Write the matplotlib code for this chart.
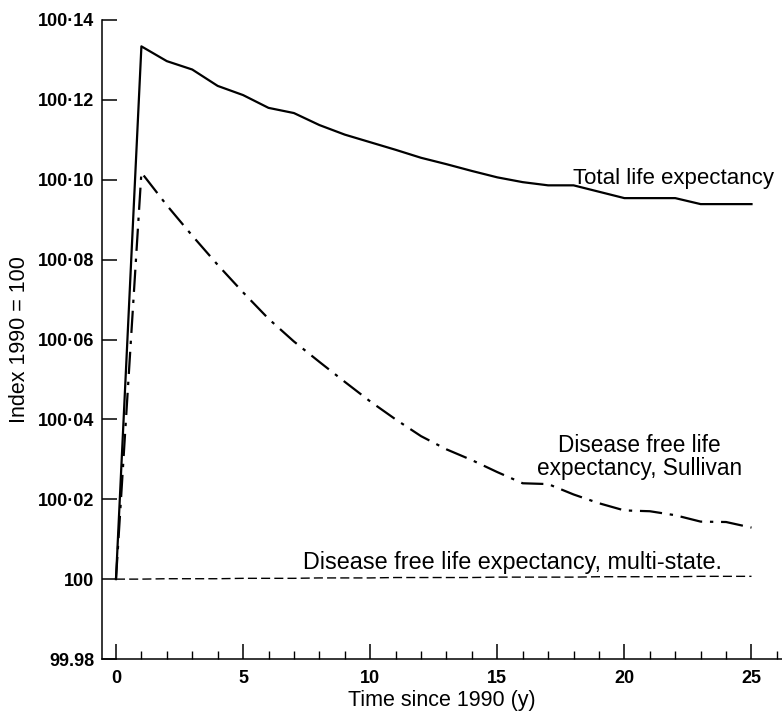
import matplotlib
matplotlib.use('Agg')
import matplotlib.pyplot as plt
from matplotlib.ticker import FixedLocator, MultipleLocator

plt.rcParams['font.family'] = ['Liberation Sans', 'DejaVu Sans']

years = list(range(0, 26))
total = [100.0, 100.1334, 100.1297, 100.1276, 100.1235, 100.1212, 100.1180, 100.1167,
         100.1137, 100.1113, 100.1094, 100.1075, 100.1055, 100.1039, 100.1022, 100.1006,
         100.0994, 100.0986, 100.0986, 100.0970, 100.0954, 100.0954, 100.0954, 100.0939,
         100.0939, 100.0939]
sullivan = [100.0, 100.1018, 100.0936, 100.0860, 100.0787, 100.0718, 100.0652, 100.0595,
            100.0544, 100.0494, 100.0445, 100.0400, 100.0358, 100.0325, 100.0298, 100.0268,
            100.0240, 100.0238, 100.0212, 100.0190, 100.0172, 100.0170, 100.0160, 100.0144,
            100.0143, 100.0129]
multistate = [100.0, 100.0000, 100.0001, 100.0001, 100.0001, 100.0002, 100.0002, 100.0002,
              100.0003, 100.0003, 100.0003, 100.0004, 100.0004, 100.0004, 100.0004, 100.0005,
              100.0005, 100.0005, 100.0005, 100.0006, 100.0006, 100.0006, 100.0006, 100.0007,
              100.0007, 100.0007]

yticks = [99.98, 100.0, 100.02, 100.04, 100.06, 100.08, 100.10, 100.12, 100.14]
ytick_labels = ['99.98', '100', '100·02', '100·04', '100·06', '100·08', '100·10', '100·12', '100·14']
xticks = [0, 5, 10, 15, 20, 25]

fig = plt.figure(figsize=(7.82, 7.11), dpi=100)
ax = fig.add_axes([102 / 782, 52 / 711, 680 / 782, 639 / 711])

ax.plot(years, total, color='black', lw=1.6)
ax.plot(years, sullivan, color='black', lw=1.6, linestyle=(0, (10, 3.5, 1.5, 3.5)))
ax.plot(years, multistate, color='black', lw=1.0, linestyle=(0, (6.5, 3)))

ax.set_xlim(-0.55, 26.2)
ax.set_ylim(99.98, 100.14)

for s in ['top', 'right']:
    ax.spines[s].set_visible(False)
for s in ['left', 'bottom']:
    ax.spines[s].set_linewidth(1.1)

ax.yaxis.set_major_locator(FixedLocator(yticks))
ax.set_yticklabels(ytick_labels)
ax.xaxis.set_major_locator(FixedLocator(xticks))
ax.xaxis.set_minor_locator(MultipleLocator(1))

ax.tick_params(axis='both', which='major', direction='in', length=10.5, width=1.1,
               labelsize=13)
ax.tick_params(axis='x', which='major', pad=8)
ax.tick_params(axis='y', which='major', pad=5.5)
ax.tick_params(axis='x', which='minor', direction='in', length=6, width=1.0)
for lab in ax.get_xticklabels() + ax.get_yticklabels():
    lab.set_fontweight('bold')

ax.set_xlabel('Time since 1990 (y)', fontsize=15.5, labelpad=2)
ax.set_ylabel('Index 1990 = 100', fontsize=15.5, labelpad=6)

ax.text(17.96, 100.099, 'Total life expectancy', fontsize=16, ha='left', va='baseline')
ax.text(20.58, 100.0305, 'Disease free life\nexpectancy, Sullivan', fontsize=16.3,
        ha='center', va='center', linespacing=1.0)
ax.text(15.6, 100.0025, 'Disease free life expectancy, multi-state.', fontsize=16.8,
        ha='center', va='baseline')

fig.savefig('out.png', dpi=100)
